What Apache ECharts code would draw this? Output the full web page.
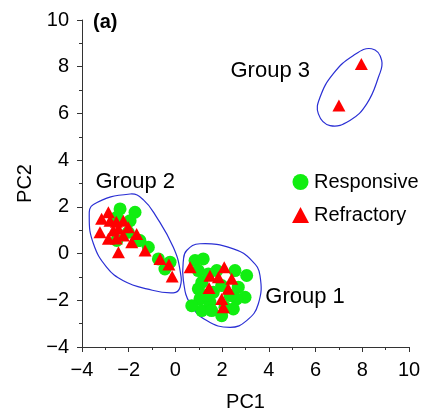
<!DOCTYPE html>
<html>
<head>
<meta charset="utf-8">
<script src="https://cdn.jsdelivr.net/npm/echarts@6/dist/echarts.min.js"></script>
<style>
  html, body { margin: 0; padding: 0; background: #fff; }
  #chart { width: 434px; height: 417px; }
</style>
</head>
<body>
<div id="chart"></div>
<script>
// PC scores
const responsive = [
  [-2.37, 1.91], [-1.73, 1.77], [-1.94, 1.41], [-2.51, 1.55], [-2.51, 0.56],
  [-1.59, 0.56], [-1.16, 0.27], [-0.73, -0.23], [-0.23, -0.37], [-0.45, -0.66],
  [-2.02, 0.91], [-1.52, 0.56],
  [0.84, -0.30], [1.19, -0.23], [0.98, -0.73], [1.13, -1.23], [0.98, -1.51],
  [1.05, -1.94], [1.13, -2.44], [1.48, -2.09], [1.55, -2.44], [1.77, -0.73],
  [1.62, -1.66], [1.98, -1.37], [2.55, -0.73], [2.69, -1.44], [3.05, -0.94],
  [2.98, -1.87], [2.62, -1.94], [2.48, -2.37], [1.98, -2.66], [2.34, -1.80],
  [1.34, -1.80], [2.12, -2.30], [0.70, -2.23], [1.41, -0.87]
]
const refractory = [
  [-3.16, 1.49], [-2.87, 1.77], [-2.80, 1.41], [-2.23, 1.41], [-3.23, 0.91],
  [-2.87, 0.63], [-2.66, 0.99], [-2.44, 1.06], [-2.02, 1.13], [-2.23, 0.77],
  [-1.87, 0.48], [-1.66, 0.84], [-2.44, 0.06], [-1.30, 0.13], [-0.66, -0.23],
  [-0.28, -0.47], [-0.14, -0.98], [-2.53, 1.36], [-2.53, 0.64],
  [0.63, -0.59], [1.48, -0.95], [2.09, -0.59], [1.84, -1.01], [2.41, -1.08],
  [1.44, -1.47], [2.26, -1.51], [1.98, -1.94], [2.05, -2.30],
  [7.96, 8.12], [7.0, 6.34]
]
// hand-drawn group boundaries
const group1Outline = [
  [0.48, 0.13], [1.05, 0.42], [2.48, 0.20], [3.27, -0.30], [3.62, -0.94],
  [3.55, -2.15], [3.05, -2.87], [2.34, -3.16], [1.34, -2.87], [0.63, -2.15],
  [0.34, -1.16], [0.34, -0.30]
]
const group2Outline = [
  [-1.94, 2.55], [-3.51, 2.10], [-3.69, 1.55], [-3.51, 0.42], [-2.94, -0.59],
  [-2.23, -1.16], [-1.23, -1.51], [-0.09, -1.68], [0.20, -1.44], [0.20, -0.73],
  [-0.09, 0.27], [-0.80, 1.55], [-1.37, 2.30]
]
const group3Outline = [
  [8.40, 8.77], [8.83, 8.27], [8.69, 7.55], [8.19, 6.41], [7.47, 5.70],
  [6.62, 5.48], [6.12, 5.98], [6.19, 6.69], [6.76, 7.70], [7.62, 8.48]
]
const groupLabels = [
  ['Group 1', 5.55, -1.84],
  ['Group 2', -1.72, 3.08],
  ['Group 3', 4.06, 7.84]
]

const outlines = [group1Outline, group2Outline, group3Outline]
const font = 'Liberation Sans'
const minus = v => String(v).replace('-', '\u2212')

const chart = echarts.init(document.getElementById('chart'))
const option = {
  animation: false,
  title: {
    text: '(a)',
    left: 88,
    top: 7,
    textStyle: { fontFamily: font, fontSize: 20, fontWeight: 'bold', color: '#000' }
  },
  legend: {
    orient: 'vertical',
    left: 287,
    top: 167,
    itemWidth: 17,
    itemHeight: 16,
    itemGap: 13,
    textStyle: { fontFamily: font, fontSize: 20, color: '#000' },
    data: [
      { name: 'Responsive', icon: 'circle' },
      { name: 'Refractory', icon: 'triangle' }
    ]
  },
  grid: { left: 82, right: 25, top: 20, bottom: 70 },
  xAxis: {
    type: 'value',
    min: -4, max: 10, interval: 2,
    name: 'PC1',
    nameLocation: 'middle',
    nameGap: 45,
    nameTextStyle: { fontFamily: font, fontSize: 20, color: '#000' },
    axisLine: { onZero: false, lineStyle: { color: '#333', width: 1 } },
    axisTick: { length: 5, lineStyle: { color: '#333' } },
    minorTick: { show: true, splitNumber: 2, length: 3, lineStyle: { color: '#333' } },
    axisLabel: { fontFamily: font, fontSize: 20, color: '#000', margin: 13, formatter: minus },
    splitLine: { show: false }
  },
  yAxis: {
    type: 'value',
    min: -4, max: 10, interval: 2,
    name: 'PC2',
    nameLocation: 'middle',
    nameGap: 46,
    nameTextStyle: { fontFamily: font, fontSize: 20, color: '#000' },
    axisLine: { onZero: false, lineStyle: { color: '#333', width: 1 } },
    axisTick: { length: 5, lineStyle: { color: '#333' } },
    minorTick: { show: true, splitNumber: 2, length: 3, lineStyle: { color: '#333' } },
    axisLabel: { fontFamily: font, fontSize: 20, color: '#000', margin: 13, formatter: minus },
    splitLine: { show: false }
  },
  series: [
    {
      type: 'custom',
      silent: true,
      data: outlines.map((o, i) => [o[0][0], o[0][1], i]),
      renderItem: (params, api) => {
        const pts = outlines[params.dataIndex].map(p => api.coord(p))
        return {
          type: 'polygon',
          shape: { points: pts, smooth: 0.45 },
          style: { fill: 'none', stroke: '#2a2fd4', lineWidth: 1.2 }
        }
      }
    },
    {
      name: 'Responsive',
      type: 'scatter',
      symbol: 'circle',
      symbolSize: 13,
      itemStyle: { color: '#11ee11', opacity: 1 },
      data: responsive
    },
    {
      name: 'Refractory',
      type: 'scatter',
      symbol: 'triangle',
      symbolSize: [13, 12],
      itemStyle: { color: '#ff0000', opacity: 1 },
      data: refractory
    },
    {
      type: 'scatter',
      silent: true,
      symbolSize: 0,
      itemStyle: { opacity: 1 },
      data: groupLabels.map(g => ({ value: [g[1], g[2]], name: g[0] })),
      label: {
        show: true,
        position: 'inside',
        formatter: p => p.name,
        fontFamily: font,
        fontSize: 22,
        color: '#000',
        textBorderWidth: 0
      }
    }
  ]
}
chart.setOption(option)
</script>
</body>
</html>
